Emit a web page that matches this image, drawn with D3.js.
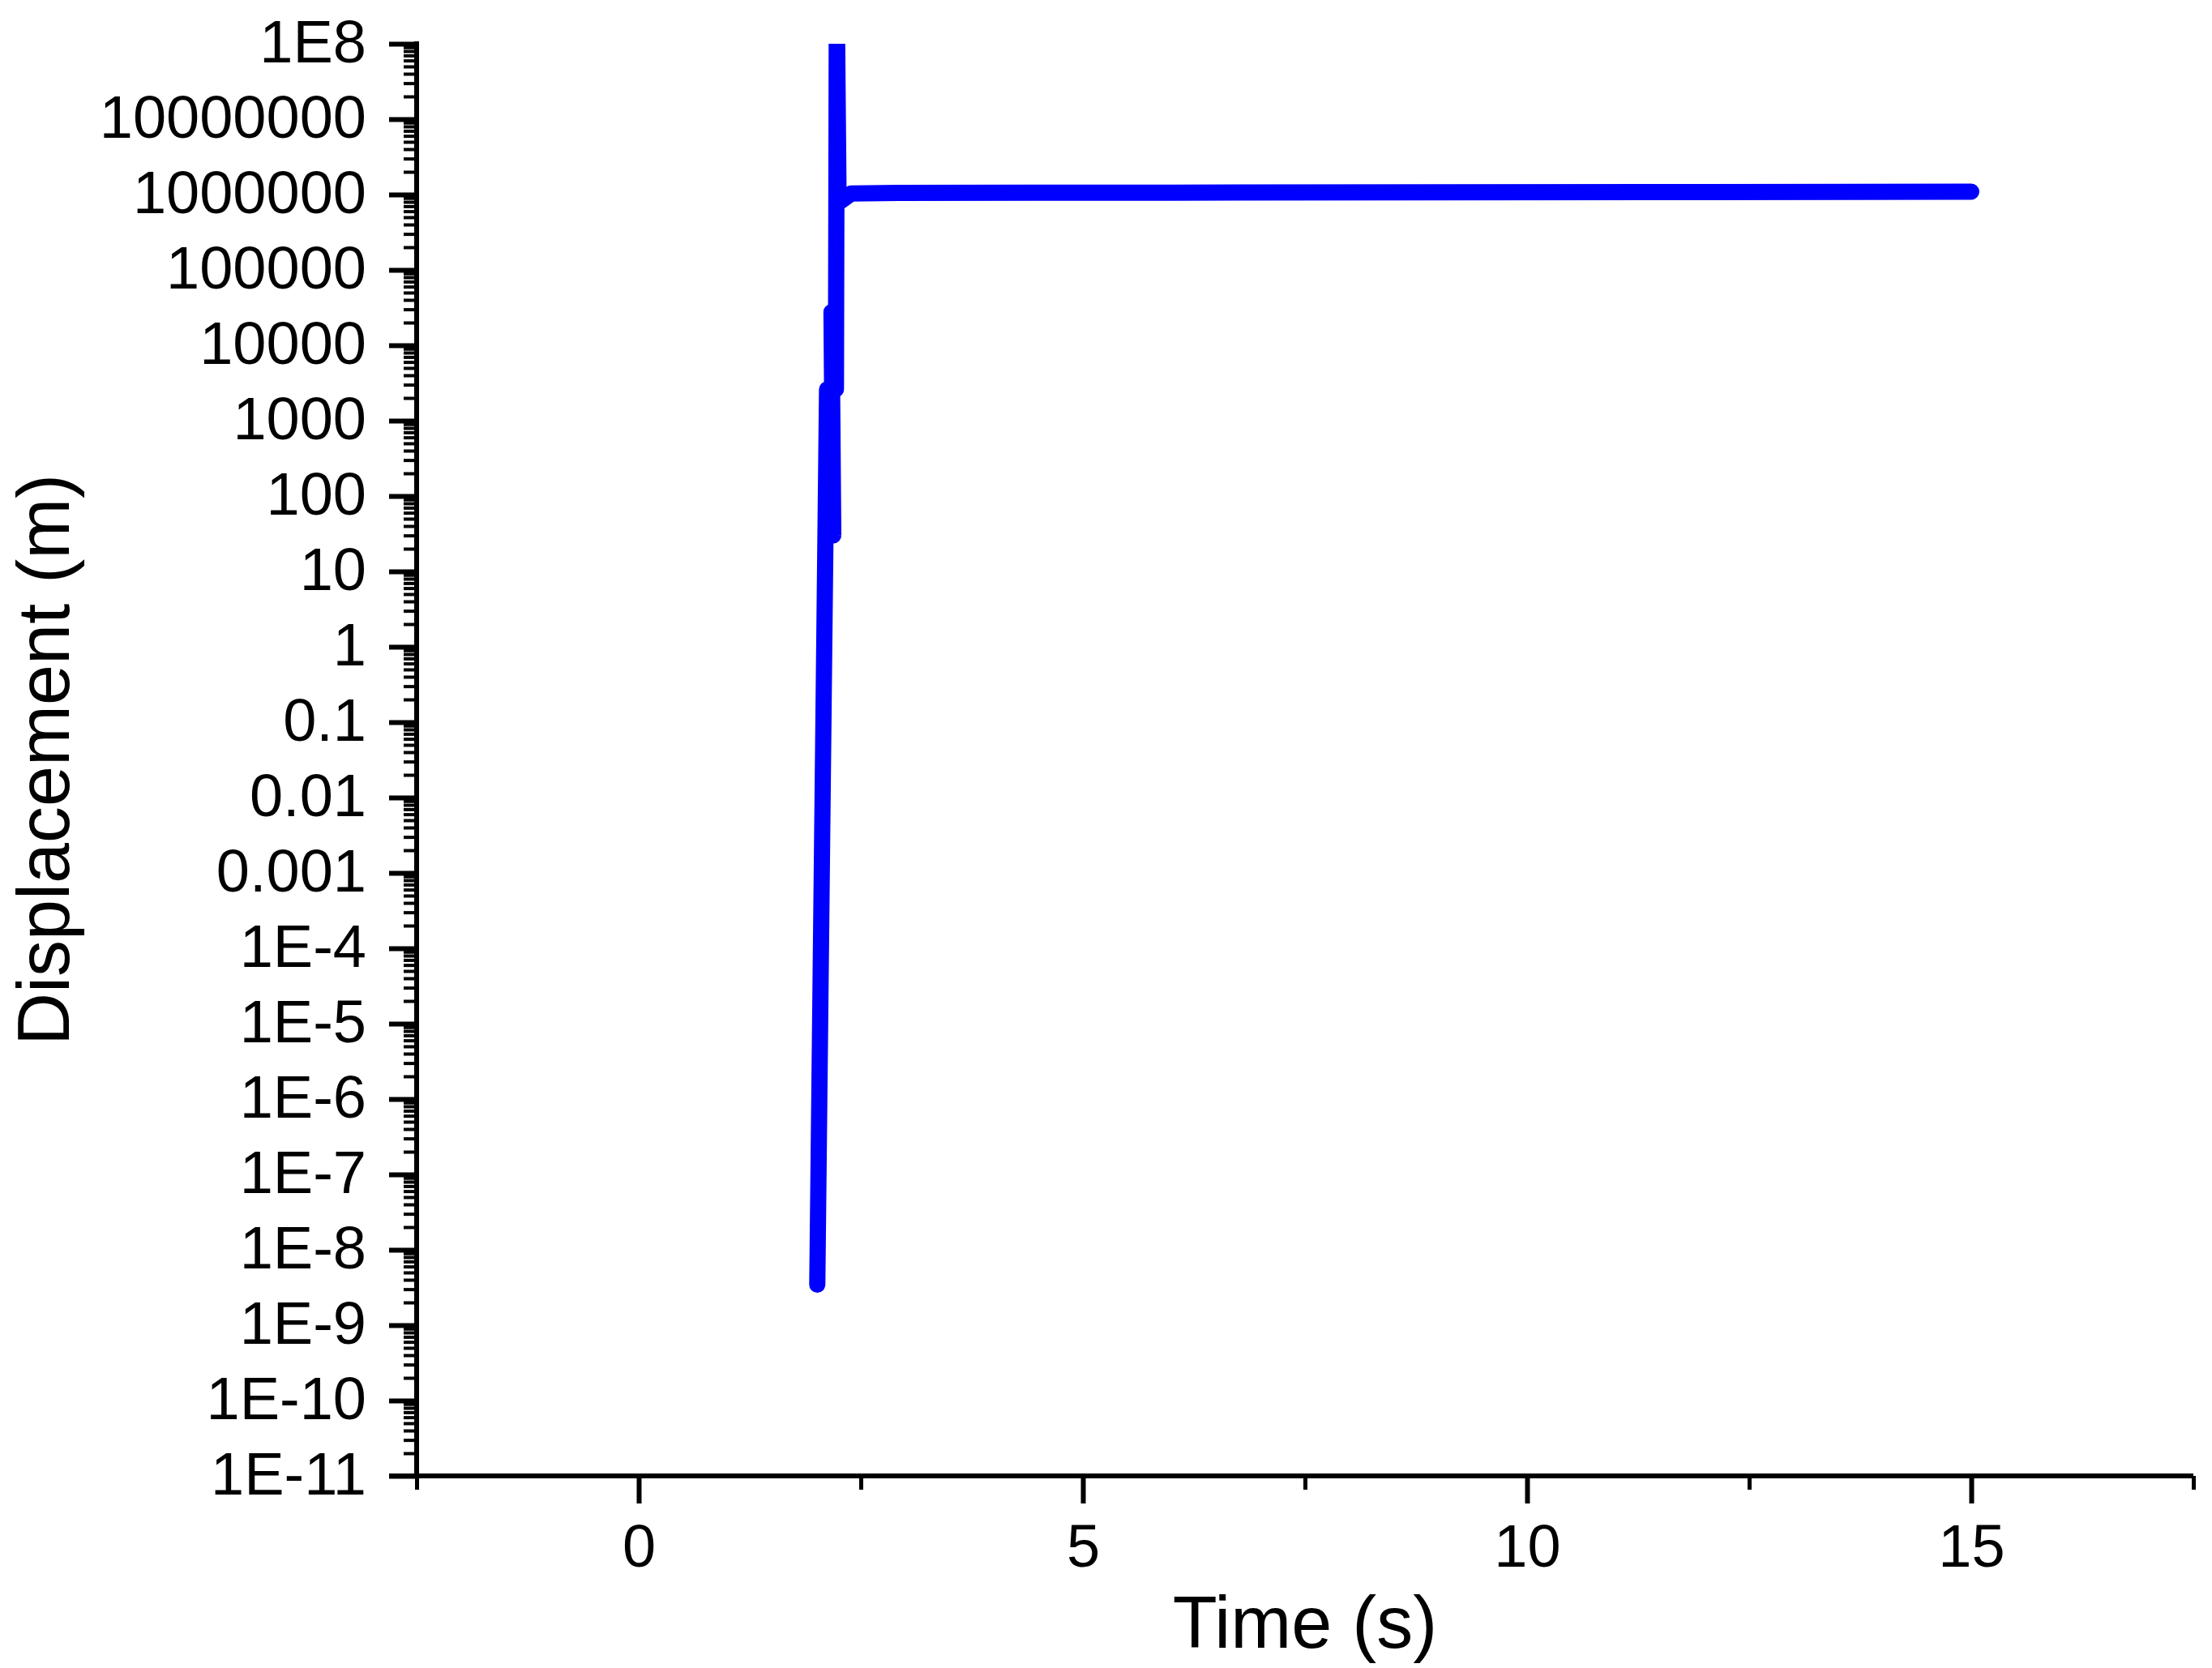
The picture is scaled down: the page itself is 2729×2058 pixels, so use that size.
<!DOCTYPE html>
<meta charset="utf-8">
<head>
  <title>Displacement vs time</title>
  <script src="https://cdn.jsdelivr.net/npm/d3@7"></script>
  <style>
    body { margin: 0; background: #fff; }
    svg { display: block; }
    text { font-family: "Liberation Sans", Arial, sans-serif; fill: #000; }
    .axis line, .axis path { stroke: #000; }
  </style>
</head>
<body>
  <svg id="chart" width="2729" height="2058"></svg>
  <script>
    // values
    const timeS = [2.01, 2.12, 2.19, 2.17, 2.22, 2.23, 2.25, 2.39, 2.92, 6, 9, 12, 15];
    const dispM = [3.45e-9, 2600, 30, 27600, 2600, 3e8, 7.8e5, 1.03e6, 1.05e6, 1.06e6, 1.07e6, 1.08e6, 1.09e6];

    const xMajor = [0, 5, 10, 15];
    const xMinor = [-2.5, 2.5, 7.5, 12.5, 17.5];
    const yExponents = d3.range(-11, 9);  // 1E-11 .. 1E8
    const yLabels = ["1E-11", "1E-10", "1E-9", "1E-8", "1E-7", "1E-6", "1E-5", "1E-4",
      "0.001", "0.01", "0.1", "1", "10", "100", "1000", "10000", "100000",
      "1000000", "10000000", "1E8"];

    const width = 2729, height = 2058;
    const margin = {left: 514, top: 54, right: 23, bottom: 237};

    const svg = d3.select("#chart");

    const x = d3.scaleLinear()
      .domain([-2.5, 17.5])
      .range([margin.left, width - margin.right]);

    const y = d3.scaleLog()
      .domain([1e-11, 1e8])
      .range([height - margin.bottom, margin.top]);

    const tickFont = 74;
    const axisW = 6;

    // y axis: major ticks with labels, then minor ticks 2..9 of each decade
    const yMajorVals = yExponents.map(function(e) { return Math.pow(10, e); });
    const yMinorVals = [];
    yExponents.slice(0, -1).forEach(function(e) {
      for (let k = 2; k <= 9; k++) yMinorVals.push(k * Math.pow(10, e));
    });

    const yAxis = svg.append("g")
      .attr("class", "axis")
      .attr("transform", "translate(" + margin.left + ",0)")
      .call(d3.axisLeft(y)
        .tickValues(yMajorVals)
        .tickSize(34)
        .tickPadding(28)
        .tickFormat(function(d, i) { return yLabels[i]; }));
    yAxis.select(".domain").remove();
    yAxis.selectAll(".tick line").attr("stroke-width", 6);
    yAxis.selectAll("text")
      .style("font-size", tickFont + "px")
      .attr("dy", "0.30em");

    svg.append("g")
      .attr("class", "axis")
      .attr("transform", "translate(" + margin.left + ",0)")
      .call(d3.axisLeft(y).tickValues(yMinorVals).tickSize(16).tickFormat(""))
      .call(function(g) { g.select(".domain").remove(); })
      .selectAll(".tick line").attr("stroke-width", 4);

    // x axis
    const xAxis = svg.append("g")
      .attr("class", "axis")
      .attr("transform", "translate(0," + (height - margin.bottom) + ")")
      .call(d3.axisBottom(x)
        .tickValues(xMajor)
        .tickSize(34)
        .tickPadding(25)
        .tickFormat(d3.format("d")));
    xAxis.select(".domain").remove();
    xAxis.selectAll(".tick line").attr("stroke-width", 6);
    xAxis.selectAll("text")
      .style("font-size", tickFont + "px")
      .attr("dy", "0.71em");

    svg.append("g")
      .attr("class", "axis")
      .attr("transform", "translate(0," + (height - margin.bottom) + ")")
      .call(d3.axisBottom(x).tickValues(xMinor).tickSize(17).tickFormat(""))
      .call(function(g) { g.select(".domain").remove(); })
      .selectAll(".tick line").attr("stroke-width", 5);

    // axis lines drawn on top of the ticks
    svg.append("line")
      .attr("x1", margin.left).attr("x2", margin.left)
      .attr("y1", margin.top - 3).attr("y2", height - margin.bottom + axisW / 2)
      .attr("stroke", "#000").attr("stroke-width", axisW);
    svg.append("line")
      .attr("x1", margin.left - 34).attr("x2", width - margin.right)
      .attr("y1", height - margin.bottom).attr("y2", height - margin.bottom)
      .attr("stroke", "#000").attr("stroke-width", axisW);

    // data line, clipped at the top of the plot
    svg.append("clipPath").attr("id", "plotClip")
      .append("rect")
      .attr("x", margin.left).attr("y", margin.top)
      .attr("width", width - margin.left - margin.right)
      .attr("height", height - margin.top - margin.bottom);

    const points = timeS.map(function(t, i) { return [t, dispM[i]]; });
    const line = d3.line()
      .x(function(d) { return x(d[0]); })
      .y(function(d) { return y(d[1]); });

    svg.append("path")
      .datum(points)
      .attr("clip-path", "url(#plotClip)")
      .attr("fill", "none")
      .attr("stroke", "#0000FF")
      .attr("stroke-width", 20)
      .attr("stroke-linecap", "round")
      .attr("stroke-linejoin", "round")
      .attr("d", line);

    // axis titles
    svg.append("text")
      .attr("x", (x(-2.5) + x(17.5)) / 2)
      .attr("y", 2033)
      .attr("text-anchor", "middle")
      .style("font-size", "90px")
      .text("Time (s)");

    svg.append("text")
      .attr("transform", "translate(85," + ((y(1e8) + y(1e-11)) / 2) + ") rotate(-90)")
      .attr("text-anchor", "middle")
      .style("font-size", "90px")
      .text("Displacement (m)");
  </script>
</body>
